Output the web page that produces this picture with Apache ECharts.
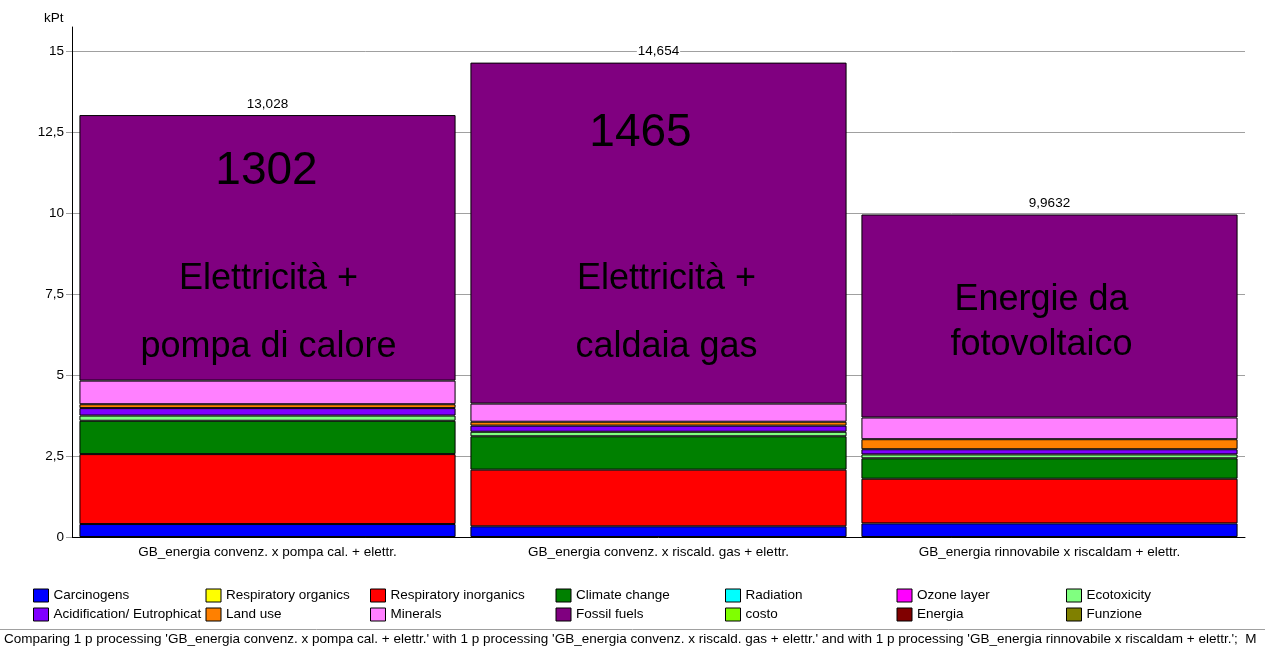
<!DOCTYPE html>
<html><head><meta charset="utf-8">
<script src="https://cdn.jsdelivr.net/npm/echarts@6/dist/echarts.min.js"></script>
<style>html,body{margin:0;padding:0;background:#fff}#c{width:1265px;height:648px}</style>
</head><body><div id="c"></div>
<script>
// ---- data ----
var categories = [
  'GB_energia convenz. x pompa cal. + elettr.',
  'GB_energia convenz. x riscald. gas + elettr.',
  'GB_energia rinnovabile x riscaldam + elettr.'
];
var seriesNames = ['Carcinogens','Respiratory organics','Respiratory inorganics','Climate change','Radiation','Ozone layer','Ecotoxicity',
  'Acidification/ Eutrophication','Land use','Minerals','Fossil fuels','costo','Energia','Funzione'];
var carcinogens          = [0.40, 0.33, 0.42];
var respiratoryOrganics  = [0, 0, 0];
var respiratoryInorganics= [2.16, 1.75, 1.38];
var climateChange        = [1.03, 1.03, 0.63];
var radiation            = [0, 0, 0];
var ozoneLayer           = [0, 0, 0];
var ecotoxicity          = [0.16, 0.14, 0.12];
var acidification        = [0.23, 0.19, 0.16];
var landUse              = [0.12, 0.12, 0.31];
var minerals             = [0.73, 0.56, 0.67];
var fossilFuels          = [8.20, 10.53, 6.27];
var costo                = [0, 0, 0];
var energia              = [0, 0, 0];
var funzione             = [0, 0, 0];
var totals = [13.028, 14.654, 9.9632];
var yTicks = [0, 2.5, 5, 7.5, 10, 12.5, 15];
var noteTexts = ['1302', 'Elettricità +\npompa di calore', '1465', 'Elettricità +\ncaldaia gas', 'Energie da\nfotovoltaico'];
var noteCats = [0, 0, 1, 1, 2];
var noteValues = [11.28, 6.90, 12.48, 6.90, 6.63];
var bottomText = "Comparing 1 p processing 'GB_energia convenz. x pompa cal. + elettr.' with 1 p processing 'GB_energia convenz. x riscald. gas + elettr.' and with 1 p processing 'GB_energia rinnovabile x riscaldam + elettr.';  M";

// ---- chart ----
var seriesData = [carcinogens, respiratoryOrganics, respiratoryInorganics, climateChange, radiation, ozoneLayer, ecotoxicity,
  acidification, landUse, minerals, fossilFuels, costo, energia, funzione];
var colors = ['#0000ff','#ffff00','#ff0000','#008000','#00ffff','#ff00ff','#80ff80',
  '#8000ff','#ff8000','#ff80ff','#800080','#80ff00','#800000','#808000'];
var FONT = "'Liberation Sans', Arial, sans-serif";
var SMALL = 13.5;
function comma(v){ return String(v).replace('.', ','); }

var noteSizes = [46, 36, 46, 36, 36];
var noteLH = [50, 68, 50, 68, 45];
var noteDx = [-1, 1, -18, 8, -8];

var series = seriesNames.map(function(name, i){
  var s = {
    name: name, type: 'bar', stack: 'total',
    data: seriesData[i].map(function(v){ return v === 0 ? { value: 0, itemStyle: { borderWidth: 0 } } : v; }),
    barCategoryGap: '3.8%',
    itemStyle: { color: colors[i], borderColor: '#000', borderWidth: 1 },
    emphasis: { disabled: true }
  };
  if (name === 'Fossil fuels') {
    s.label = {
      show: true, position: 'top', distance: 4, color: '#000', fontFamily: FONT, fontSize: SMALL,
      backgroundColor: '#fff', padding: [0, 1],
      formatter: function(p){ return comma(totals[p.dataIndex]); }
    };
    s.markPoint = {
      symbol: 'rect', symbolSize: 1, silent: true,
      itemStyle: { color: 'rgba(0,0,0,0)' },
      data: noteTexts.map(function(t, k){
        return {
          coord: [noteCats[k], noteValues[k]],
          label: { show: true, position: 'inside', formatter: t, color: '#000', fontFamily: FONT,
                   fontSize: noteSizes[k], lineHeight: noteLH[k], align: 'center', offset: [noteDx[k], 0] }
        };
      })
    };
  }
  return s;
});

var colW = [173, 165, 186, 170, 172, 170, 171];
var legendData = seriesNames.map(function(n, i){
  return { name: n, textStyle: { width: colW[i % 7] - 21 } };
});

var chart = echarts.init(document.getElementById('c'), null, { renderer: 'canvas' });
chart.setOption({
  animation: false,
  backgroundColor: '#fff',
  textStyle: { fontFamily: FONT },
  grid: { left: 72, right: 20, top: 27, bottom: 111, containLabel: false },
  xAxis: {
    type: 'category', data: categories,
    axisLine: { lineStyle: { color: '#000', width: 1 } },
    axisTick: { show: false },
    axisLabel: { color: '#000', fontSize: SMALL, margin: 8, fontFamily: FONT }
  },
  yAxis: {
    type: 'value', min: 0, max: 15.75, interval: 2.5,
    axisLine: { show: true, lineStyle: { color: '#000', width: 1 } },
    axisTick: { show: true, length: 6, customValues: yTicks, lineStyle: { color: '#a0a0a0' } },
    axisLabel: { customValues: yTicks, color: '#000', fontSize: SMALL, margin: 8, fontFamily: FONT, formatter: function(v){ return comma(v); } },
    splitLine: { show: true, lineStyle: { color: '#a0a0a0', width: 1 } }
  },
  legend: {
    data: legendData, left: 33, top: 586, width: 1215, padding: 0,
    itemGap: 0, itemWidth: 15, itemHeight: 13, icon: 'rect', selectedMode: false,
    itemStyle: { borderColor: '#000', borderWidth: 1 },
    textStyle: { color: '#000', fontSize: SMALL, lineHeight: 19, fontFamily: FONT, overflow: 'truncate', ellipsis: '' },
    formatter: function(n){ return n === 'Acidification/ Eutrophication' ? 'Acidification/ Eutrophicat' : n; }
  },
  graphic: [
    { type: 'text', left: 44, top: 11, style: { text: 'kPt', fill: '#000', fontSize: SMALL, fontFamily: FONT } },
    { type: 'line', shape: { x1: 0, y1: 629.5, x2: 1265, y2: 629.5 }, style: { stroke: '#a0a0a0', lineWidth: 1 } },
    { type: 'text', left: 4, top: 632, style: { text: bottomText, fill: '#000', fontSize: SMALL, fontFamily: FONT } }
  ],
  series: series
});
</script></body></html>
